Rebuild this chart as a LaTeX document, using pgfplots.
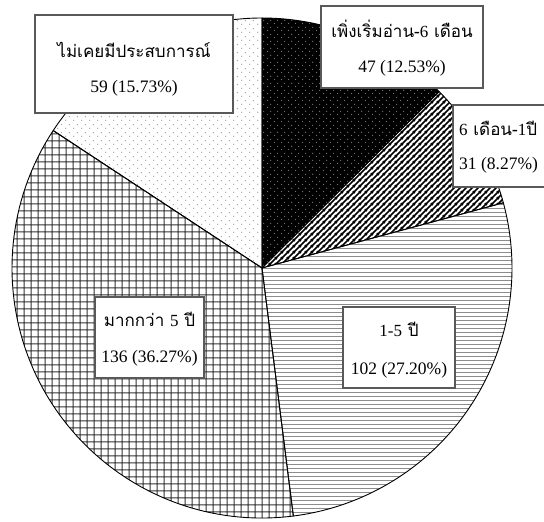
\documentclass[border=0pt]{standalone}
\usepackage{fontspec}
\setmainfont{Liberation Serif}
\newfontfamily\thaifont[Script=Thai]{Loma}
\usepackage{pgfplots}
\pgfplotsset{compat=1.18}
\usetikzlibrary{patterns}

% white dots on black
\pgfdeclarepatternformonly{wdots}{\pgfqpoint{0pt}{0pt}}{\pgfqpoint{7pt}{7pt}}{\pgfqpoint{7pt}{7pt}}{%
  \pgfpathcircle{\pgfqpoint{1.75pt}{1.75pt}}{0.8pt}%
  \pgfpathcircle{\pgfqpoint{5.25pt}{5.25pt}}{0.8pt}%
  \pgfusepath{fill}}
% north east stripes
\pgfdeclarepatternformonly{nestripes}{\pgfqpoint{0pt}{0pt}}{\pgfqpoint{6pt}{6pt}}{\pgfqpoint{6pt}{6pt}}{%
  \pgfsetlinewidth{1.7pt}%
  \pgfpathmoveto{\pgfqpoint{-1pt}{-1pt}}\pgfpathlineto{\pgfqpoint{7pt}{7pt}}%
  \pgfpathmoveto{\pgfqpoint{-1pt}{5pt}}\pgfpathlineto{\pgfqpoint{1pt}{7pt}}%
  \pgfpathmoveto{\pgfqpoint{5pt}{-1pt}}\pgfpathlineto{\pgfqpoint{7pt}{1pt}}%
  \pgfusepath{stroke}}
% fine horizontal lines
\pgfdeclarepatternformonly{hlines}{\pgfqpoint{0pt}{0pt}}{\pgfqpoint{4pt}{4pt}}{\pgfqpoint{4pt}{4pt}}{%
  \pgfsetlinewidth{0.9pt}%
  \pgfpathmoveto{\pgfqpoint{-1pt}{2pt}}\pgfpathlineto{\pgfqpoint{5pt}{2pt}}%
  \pgfusepath{stroke}}
% grid
\pgfdeclarepatternformonly{mygrid}{\pgfqpoint{0pt}{0pt}}{\pgfqpoint{7pt}{7pt}}{\pgfqpoint{7pt}{7pt}}{%
  \pgfsetlinewidth{1.2pt}%
  \pgfpathmoveto{\pgfqpoint{3.5pt}{-1pt}}\pgfpathlineto{\pgfqpoint{3.5pt}{8pt}}%
  \pgfpathmoveto{\pgfqpoint{-1pt}{3.5pt}}\pgfpathlineto{\pgfqpoint{8pt}{3.5pt}}%
  \pgfusepath{stroke}}
% light dots
\pgfdeclarepatternformonly{ldots}{\pgfqpoint{0pt}{0pt}}{\pgfqpoint{8pt}{8pt}}{\pgfqpoint{8pt}{8pt}}{%
  \pgfpathcircle{\pgfqpoint{2pt}{2pt}}{0.75pt}%
  \pgfpathcircle{\pgfqpoint{6pt}{6pt}}{0.75pt}%
  \pgfusepath{fill}}

% data (counts)
\def\vA{47}   % เพิ่งเริ่มอ่าน-6 เดือน
\def\vB{31}   % 6 เดือน-1 ปี
\def\vC{102}  % 1-5 ปี
\def\vD{136}  % มากกว่า 5 ปี
\def\vE{59}   % ไม่เคยมีประสบการณ์
\pgfmathsetmacro\tot{\vA+\vB+\vC+\vD+\vE}
\pgfmathsetmacro\aO{90}
\pgfmathsetmacro\aA{\aO-360/\tot*\vA}
\pgfmathsetmacro\aB{\aA-360/\tot*\vB}
\pgfmathsetmacro\aC{\aB-360/\tot*\vC}
\pgfmathsetmacro\aD{\aC-360/\tot*\vD}
\pgfmathsetmacro\aE{\aD-360/\tot*\vE}
\def\R{250pt}
\newcommand\rmd[1]{{\rmfamily #1}}

\begin{document}
\begin{tikzpicture}
\begin{axis}[width=544pt,height=522pt,scale only axis,
  xmin=0,xmax=544,ymin=0,ymax=522,hide axis,clip=true]
\coordinate (SW) at (rel axis cs:0,0);
\coordinate (NE) at (rel axis cs:1,1);
\coordinate (C) at (axis cs:262,254);
\tikzset{slice/.style={draw=black,line width=0.9pt,line join=round}}
\path[slice,preaction={fill=black},pattern=wdots,pattern color=black!55]
  (C) -- ++(\aO:\R) arc[start angle=\aO,end angle=\aA,radius=\R] -- cycle;
\path[slice,pattern=nestripes,pattern color=black]
  (C) -- ++(\aA:\R) arc[start angle=\aA,end angle=\aB,radius=\R] -- cycle;
\path[slice,pattern=hlines,pattern color=black!45]
  (C) -- ++(\aB:\R) arc[start angle=\aB,end angle=\aC,radius=\R] -- cycle;
\path[slice,pattern=mygrid,pattern color=black!80]
  (C) -- ++(\aC:\R) arc[start angle=\aC,end angle=\aD,radius=\R] -- cycle;
\path[slice,pattern=ldots,pattern color=black!40]
  (C) -- ++(\aD:\R) arc[start angle=\aD,end angle=\aE,radius=\R] -- cycle;
% label boxes
\tikzset{lbox/.style={fill=white,draw=black!65,line width=1.5pt},
  ltxt/.style={font=\fontsize{17.5}{19}\selectfont,inner sep=0pt},
  lth/.style={font=\thaifont\fontsize{17}{19}\selectfont,inner sep=0pt}}
\draw[lbox] (axis cs:35,409) rectangle (axis cs:233,507);
\node[lth] at (axis cs:134,472) {ไม่เคยมีประสบการณ์};
\node[ltxt] at (axis cs:134,434) {59 (15.73\%)};
\draw[lbox] (axis cs:321,434) rectangle (axis cs:483,516);
\node[lth] at (axis cs:402,493) {เพิ่งเริ่มอ่าน-\rmd{6} เดือน};
\node[ltxt] at (axis cs:402,454) {47 (12.53\%)};
\draw[lbox] (axis cs:453,335) rectangle (axis cs:580,417);
\node[lth,anchor=west] at (axis cs:459,394) {\rmd{6} เดือน-\rmd{1}ปี};
\node[ltxt,anchor=west] at (axis cs:459,357) {31 (8.27\%)};
\draw[lbox] (axis cs:95,144) rectangle (axis cs:204,225);
\node[lth] at (axis cs:149.5,203) {มากกว่า \rmd{5} ปี};
\node[ltxt] at (axis cs:149.5,164) {136 (36.27\%)};
\draw[lbox] (axis cs:343,134) rectangle (axis cs:455,215);
\node[lth] at (axis cs:399,193) {\rmd{1-5} ปี};
\node[ltxt] at (axis cs:399,152) {102 (27.20\%)};
\end{axis}
\pgfresetboundingbox
\path[use as bounding box] (SW) rectangle (NE);
\end{tikzpicture}
\end{document}
